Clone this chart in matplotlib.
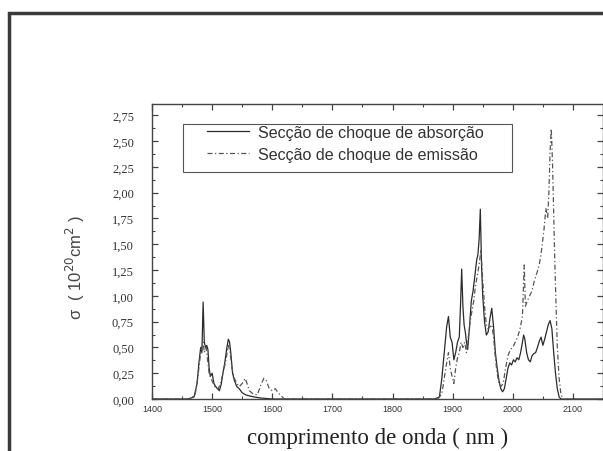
import matplotlib
matplotlib.use("Agg")
import matplotlib.pyplot as plt
from matplotlib.ticker import MultipleLocator, FuncFormatter
from matplotlib.patches import Rectangle

# absorption cross-section (solid)
abs_nm = [1400, 1460, 1470, 1475, 1478, 1481, 1483, 1485, 1487, 1489, 1491, 1493, 1495, 1497,
          1500, 1503, 1506, 1509, 1512, 1515, 1518, 1521, 1524, 1527, 1529, 1531, 1534, 1537,
          1541, 1545, 1550, 1556, 1562, 1570, 1580, 1600, 1870, 1878, 1882, 1886, 1890, 1893,
          1896, 1899, 1902, 1905, 1908, 1911, 1913, 1915, 1917, 1919, 1921, 1923, 1925, 1928,
          1931, 1934, 1937, 1940, 1942, 1944, 1946, 1948, 1950, 1953, 1956, 1959, 1962, 1965,
          1968, 1971, 1974, 1977, 1980, 1983, 1986, 1989, 1992, 1995, 1998, 2001, 2004, 2007,
          2010, 2013, 2016, 2018, 2020, 2023, 2026, 2029, 2032, 2035, 2038, 2041, 2044, 2047,
          2050, 2053, 2056, 2059, 2062, 2065, 2068, 2071, 2074, 2077, 2080, 2150]
abs_val = [0, 0, 0.02, 0.15, 0.35, 0.50, 0.45, 0.94, 0.55, 0.50, 0.52, 0.48, 0.30, 0.22,
           0.25, 0.15, 0.12, 0.10, 0.08, 0.14, 0.25, 0.35, 0.48, 0.58, 0.55, 0.45, 0.25, 0.18,
           0.12, 0.10, 0.06, 0.04, 0.03, 0.02, 0.01, 0, 0, 0.02, 0.20, 0.45, 0.70, 0.80,
           0.60, 0.55, 0.38, 0.45, 0.55, 0.60, 0.90, 1.26, 0.90, 0.72, 0.65, 0.55, 0.48, 0.70,
           0.95, 1.05, 1.20, 1.35, 1.40, 1.55, 1.84, 1.30, 1.00, 0.75, 0.62, 0.65, 0.78, 0.88,
           0.70, 0.45, 0.30, 0.18, 0.10, 0.07, 0.10, 0.20, 0.30, 0.35, 0.33, 0.38, 0.36, 0.40,
           0.38, 0.45, 0.55, 0.62, 0.58, 0.45, 0.38, 0.36, 0.42, 0.44, 0.45, 0.50, 0.56, 0.60,
           0.52, 0.58, 0.65, 0.72, 0.76, 0.68, 0.45, 0.25, 0.10, 0.02, 0, 0]

# emission cross-section (dashed)
emi_nm = [1400, 1465, 1472, 1476, 1480, 1483, 1485, 1487, 1490, 1492, 1495, 1498, 1502, 1506,
          1510, 1514, 1518, 1522, 1525, 1527, 1530, 1533, 1537, 1541, 1545, 1550, 1555, 1558,
          1562, 1568, 1575, 1582, 1586, 1590, 1595, 1600, 1605, 1610, 1615, 1620, 1875, 1882,
          1886, 1890, 1893, 1896, 1899, 1902, 1905, 1908, 1911, 1914, 1917, 1920, 1923, 1926,
          1929, 1932, 1935, 1938, 1941, 1944, 1947, 1950, 1953, 1956, 1959, 1962, 1965, 1968,
          1971, 1974, 1977, 1980, 1984, 1988, 1992, 1996, 2000, 2004, 2008, 2012, 2016, 2019,
          2021, 2024, 2028, 2032, 2036, 2040, 2044, 2048, 2052, 2055, 2058, 2060, 2062, 2064,
          2066, 2068, 2070, 2072, 2074, 2077, 2080, 2083]
emi_val = [0, 0, 0.05, 0.20, 0.40, 0.50, 0.55, 0.45, 0.50, 0.40, 0.25, 0.20, 0.15, 0.10,
           0.10, 0.15, 0.25, 0.35, 0.45, 0.52, 0.45, 0.30, 0.20, 0.15, 0.12, 0.15, 0.20, 0.15,
           0.08, 0.05, 0.04, 0.15, 0.20, 0.18, 0.10, 0.08, 0.10, 0.06, 0.03, 0, 0, 0.05,
           0.20, 0.35, 0.45, 0.30, 0.22, 0.15, 0.30, 0.40, 0.45, 0.55, 0.50, 0.55, 0.45, 0.60,
           0.75, 0.85, 0.95, 1.10, 1.20, 1.30, 1.45, 1.15, 0.90, 0.72, 0.68, 0.70, 0.72, 0.60,
           0.40, 0.25, 0.15, 0.12, 0.15, 0.30, 0.42, 0.48, 0.50, 0.55, 0.60, 0.68, 0.80, 1.30,
           0.90, 0.95, 1.00, 1.05, 1.15, 1.22, 1.30, 1.45, 1.65, 1.85, 1.75, 2.00, 2.40, 2.62,
           2.30, 1.80, 1.30, 0.90, 0.50, 0.20, 0.05, 0]

labels = ["Secção de choque de absorção", "Secção de choque de emissão"]
x_ticks = [1400, 1500, 1600, 1700, 1800, 1900, 2000, 2100]
y_ticks = [0, 0.25, 0.5, 0.75, 1.0, 1.25, 1.5, 1.75, 2.0, 2.25, 2.5, 2.75]

W, H = 603, 452
fig = plt.figure(figsize=(W / 100, H / 100), dpi=100)
# outer scanned frame
fig.patches.append(Rectangle((9 / W, -0.2), 1.2, 1.2 - 14 / H, transform=fig.transFigure,
                             fill=False, edgecolor="#3a3a3a", linewidth=2.5))

ax_l, ax_r, ax_t, ax_b = 152, 603, 105, 400
ax = fig.add_axes([ax_l / W, 1 - ax_b / H, (ax_r - ax_l) / W, (ax_b - ax_t) / H])
ink = "#2b2b2b"
ax.plot(abs_nm, abs_val, color=ink, lw=0.9, label=labels[0])
ax.plot(emi_nm, emi_val, color="#555555", lw=0.9, ls=(0, (4, 2, 1, 2)), label=labels[1])

ax.set_xlim(1400, 2150)
ax.set_ylim(0, 2.86)
ax.set_xticks(x_ticks)
ax.set_yticks(y_ticks)
ax.xaxis.set_minor_locator(MultipleLocator(50))
ax.yaxis.set_minor_locator(MultipleLocator(0.125))
ax.tick_params(which="both", direction="in", top=True, right=True, colors="#444444")
ax.tick_params(which="major", length=4, width=0.9)
ax.tick_params(which="minor", length=2, width=0.8)
ax.tick_params(axis="y", which="major", pad=13)
ax.yaxis.set_major_formatter(FuncFormatter(lambda v, p: f"{v:.2f}".replace(".", ",")))
for lab in ax.get_yticklabels():
    lab.set_fontfamily("Liberation Serif")
    lab.set_fontsize(9)
    lab.set_color("#333333")
for lab in ax.get_xticklabels():
    lab.set_fontfamily("Liberation Sans")
    lab.set_fontsize(6.5)
    lab.set_color("#333333")
for s in ax.spines.values():
    s.set_color("#444444")
    s.set_linewidth(1.0)

ax.set_xlabel("comprimento de onda ( nm )", fontfamily="Liberation Serif", fontsize=16.5,
              color="#222222", labelpad=10)
ax.set_ylabel(r"σ  ( 10$^{20}$cm$^{2}$ )", fontfamily="Liberation Sans", fontsize=12,
              color="#444444")
ax.yaxis.set_label_coords((87 - ax_l) / (ax_r - ax_l), (ax_b - 267) / (ax_b - ax_t))


def axpt(px, py):
    return (px - ax_l) / (ax_r - ax_l), (ax_b - py) / (ax_b - ax_t)


leg = ax.legend(loc="upper left", bbox_to_anchor=axpt(207, 126),
                prop={"family": "Liberation Sans", "size": 11.6}, frameon=False,
                handlelength=2.6, borderpad=0.0, labelspacing=0.42, handletextpad=0.55,
                borderaxespad=0)
for t in leg.get_texts():
    t.set_color("#333333")
bx0, by0 = axpt(183, 173)
bx1, by1 = axpt(512, 125)
ax.add_patch(Rectangle((bx0, by0), bx1 - bx0, by1 - by0, transform=ax.transAxes,
                       fill=False, edgecolor="#555555", linewidth=0.8, zorder=5))

fig.savefig("out.png", dpi=100)
